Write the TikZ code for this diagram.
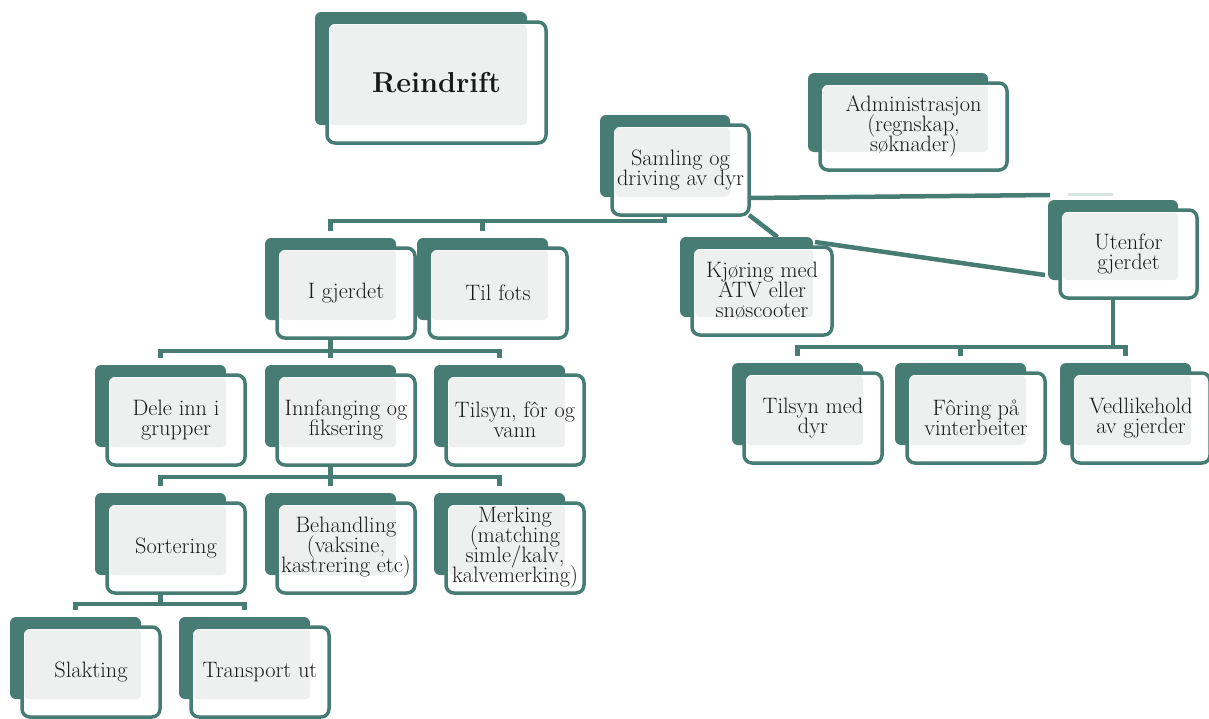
\documentclass[tikz,border=0pt]{standalone}
\usepackage{tikz}
\usetikzlibrary{positioning,calc}
\definecolor{rdteal}{RGB}{70,124,115}
\definecolor{rdgrey}{RGB}{237,240,239}
\definecolor{rdfaint}{RGB}{218,227,224}
\newcommand{\rdfont}{\fontsize{22.3}{20}\selectfont\setlength{\lineskiplimit}{-20pt}\relax}
\tikzset{
  backbox/.style={fill=rdteal,rounded corners=6pt,anchor=north west,inner sep=0pt,outer sep=0pt},
  frontbox/.style={draw=rdteal,fill=white,line width=3.5pt,rounded corners=8pt,anchor=north west,
    inner sep=0pt,outer sep=0pt,align=center,text=black!90,font=\rdfont},
  link/.style={draw=rdteal,line width=4.5pt},
  drop/.style={link,shorten >=7pt},
}

\newcommand{\rdbox}[6]{%
  \node[backbox,minimum width=#4pt,minimum height=#5pt] (#1-b) at (#2,#3) {};
  \node[frontbox,minimum width=#4pt+7pt,minimum height=#5pt+8pt,
    path picture={\fill[rdgrey,rounded corners=4pt] ($(path picture bounding box.north west)+(2.5,2.5)$) rectangle (#1-b.south east);}]
    (#1) at (#2+12,#3+10) {#6};
}

\begin{document}
\begin{tikzpicture}[x=1pt,y=-1pt]

\useasboundingbox (0,0) rectangle (1209,718);

\rdbox{reindrift}{315}{12}{212}{113}{\fontsize{28.8}{32}\selectfont\bfseries Reindrift}
\rdbox{admin}{808}{73}{180}{79}{Administrasjon\\(regnskap,\\søknader)}
\rdbox{samling}{600}{115}{130}{82}{Samling og\\driving av dyr}
\rdbox{kjoring}{680}{237}{133}{80}{Kjøring med\\ATV eller\\snøscooter}
\rdbox{utenfor}{1048}{200}{130}{80}{Utenfor\\gjerdet}
\rdbox{igjerdet}{265}{238}{131}{82}{I gjerdet}
\rdbox{tilfots}{417}{238}{131}{82}{Til fots}
\rdbox{dele}{95}{365}{131}{82}{Dele inn i\\grupper}
\rdbox{innfang}{265}{365}{131}{82}{Innfanging og\\fiksering}
\rdbox{tilsynfor}{434}{365}{131}{82}{Tilsyn, fôr og\\vann}
\rdbox{sortering}{95}{493}{131}{82}{Sortering}
\rdbox{behandling}{265}{493}{131}{82}{Behandling\\(vaksine,\\kastrering etc)}
\rdbox{merking}{434}{493}{131}{82}{Merking\\(matching\\simle/kalv,\\kalvemerking)}
\rdbox{slakting}{10}{617}{131}{82}{Slakting}
\rdbox{transport}{179}{617}{131}{82}{Transport ut}
\rdbox{tilsyndyr}{732}{363}{131}{82}{Tilsyn med\\dyr}
\rdbox{foring}{895}{363}{131}{82}{Fôring på\\vinterbeiter}
\rdbox{vedlikehold}{1060}{363}{131}{82}{Vedlikehold\\av gjerder}

\foreach \c in {igjerdet,tilfots}
  \draw[drop] (samling.south -| samling-b.south) -- ++(0,6) -| (\c-b.north);
\foreach \c in {dele,innfang,tilsynfor}
  \draw[drop] (igjerdet.south -| igjerdet-b.south) -- ++(0,13) -| (\c-b.north);
\foreach \c in {sortering,behandling,merking}
  \draw[drop] (innfang.south -| innfang-b.south) -- ++(0,12) -| (\c-b.north);
\foreach \c in {slakting,transport}
  \draw[drop] (sortering.south -| sortering-b.south) -- ++(0,11) -| (\c-b.north);
\foreach \c in {tilsyndyr,foring,vedlikehold}
  \draw[drop] (utenfor.south -| utenfor-b.south) -- ++(0,49) -| (\c-b.north);

\draw[link] ($(samling.south east)+(0,-17)$) to ($(utenfor-b.north west)+(2,-5)$);
\draw[rdfaint,line width=3pt] ($(utenfor-b.north west)+(20,-6)$) to ($(utenfor-b.north)+(0,-6)$);
\draw[link] (samling.south east) to ($(kjoring-b.north)+(31,0)$);
\draw[link] ($(kjoring-b.north east)+(2,5)$) to ($(utenfor-b.south west)+(-3,-5)$);

\end{tikzpicture}
\end{document}
